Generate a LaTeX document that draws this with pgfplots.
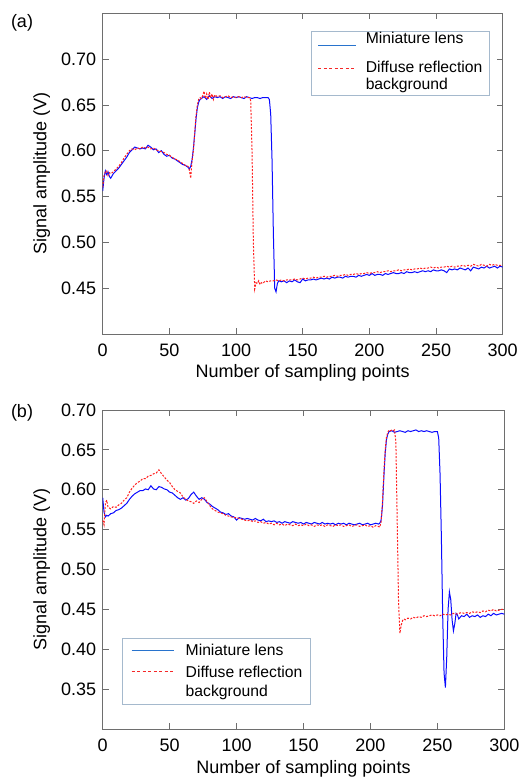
\documentclass[border=0pt]{standalone}
\usepackage{pgfplots}
\pgfplotsset{compat=1.18}
\usepackage{fontspec}
\setmainfont{Liberation Sans}
\definecolor{axgray}{RGB}{110,110,110}
\definecolor{legblue}{RGB}{40,115,205}
\definecolor{legred}{RGB}{245,40,40}
\definecolor{legedge}{RGB}{165,185,205}
\definecolor{lblue}{RGB}{10,10,255}
\definecolor{lred}{RGB}{255,30,30}
\pgfplotsset{
  mystyle/.style={
    scale only axis,
    xmin=0, xmax=300,
    xtick={0,50,...,300},
    tick align=inside,
    major tick length=6pt,
    axis line style={axgray, line width=0.8pt},
    every tick/.style={axgray, line width=0.8pt},
    tick label style={font=\fontsize{18}{21}\selectfont, text=black},
    xticklabel style={yshift=-6.5pt, /pgf/number format/precision=0, /pgf/number format/fixed zerofill=false},
    yticklabel style={xshift=-3pt},
    label style={font=\fontsize{18}{21}\selectfont},
    /pgf/number format/assume math mode=true,
    /pgf/number format/fixed,
    /pgf/number format/fixed zerofill,
    /pgf/number format/precision=2,
    xlabel={Number of sampling points},
    ylabel={Signal amplitude (V)},
    ylabel style={at={(axis description cs:0,0.5)}, anchor=south, yshift=49pt},
    legend style={draw=legedge, line width=0.8pt, font=\fontsize{15.7}{18}\selectfont,
      cells={anchor=west}, nodes={inner sep=0pt, text depth=, font=\fontsize{15.7}{18}\selectfont},
      inner ysep=1pt, row sep=0pt},
  },
  blueline/.style={lblue, line width=1pt},
  redline/.style={lred, line width=1pt, dash pattern=on 2pt off 1.5pt},
}
\begin{document}
\begin{tikzpicture}
\useasboundingbox (0pt,0pt) rectangle (532pt,-778pt);
\node[font=\fontsize{18}{21}\selectfont, anchor=base] at (22pt,-28pt) {(a)};
\node[font=\fontsize{18}{21}\selectfont, anchor=base] at (22pt,-417pt) {(b)};
\begin{axis}[mystyle,
  at={(102.7pt,-13.3pt)}, anchor=north west,
  width=400pt, height=320.7pt,
  ymin=0.40, ymax=0.75,
  ytick={0.45,0.50,0.55,0.60,0.65,0.70},
  xlabel style={at={(axis description cs:0.5,0)}, anchor=north, yshift=-27pt},
  legend style={at={(axis description cs:1,1)}, anchor=north east, xshift=-13.4pt, yshift=-17.7pt,
    inner xsep=6.5pt, /tikz/every odd column/.append style={column sep=9pt}},
  legend image code/.code={\draw[#1] (0pt,0pt) -- (38pt,0pt);},
]
\addplot[blueline, forget plot] table {
0 0.556
1 0.570
2 0.578
3 0.574
4 0.577
5 0.572
6 0.570
8 0.575
10 0.578
12 0.581
14 0.585
16 0.589
18 0.593
20 0.598
22 0.601
24 0.604
26 0.603
28 0.602
30 0.603
32 0.602
34 0.606
36 0.604
38 0.601
40 0.602
42 0.598
44 0.600
46 0.596
48 0.594
50 0.595
52 0.592
54 0.591
56 0.589
58 0.587
60 0.585
62 0.584
64 0.582
65 0.580
66 0.583
67 0.590
68 0.602
69 0.618
70 0.635
71 0.647
72 0.653
73 0.656
74 0.657
76 0.659
78 0.656
80 0.660
82 0.657
84 0.659
86 0.658
88 0.659
90 0.657
92 0.659
94 0.658
96 0.657
98 0.659
100 0.658
102 0.659
104 0.658
106 0.657
108 0.659
110 0.658
112 0.657
114 0.658
116 0.658
118 0.657
120 0.658
122 0.658
124 0.658
125 0.656
126 0.640
127 0.590
128 0.510
129 0.450
130 0.446
131 0.455
132 0.458
134 0.457
136 0.458
138 0.456
140 0.458
142 0.457
144 0.459
146 0.457
148 0.456
150 0.460
152 0.458
154 0.459
156 0.459
158 0.460
160 0.459
162 0.460
164 0.461
166 0.460
168 0.461
170 0.460
172 0.462
174 0.461
176 0.462
178 0.462
180 0.461
182 0.463
184 0.462
186 0.463
188 0.463
190 0.462
192 0.464
194 0.463
196 0.464
198 0.465
200 0.464
202 0.466
204 0.464
206 0.465
208 0.465
210 0.464
212 0.466
214 0.465
216 0.466
218 0.467
220 0.466
222 0.466
224 0.467
226 0.466
228 0.468
230 0.467
232 0.467
234 0.468
236 0.467
238 0.468
240 0.469
242 0.468
244 0.469
246 0.468
248 0.470
250 0.469
252 0.469
254 0.470
256 0.469
258 0.467
260 0.471
262 0.470
264 0.471
266 0.470
268 0.472
270 0.471
272 0.470
274 0.472
276 0.469
278 0.473
280 0.472
282 0.471
284 0.473
286 0.472
288 0.474
290 0.472
292 0.473
294 0.474
296 0.472
298 0.474
300 0.473
};
\addplot[redline, forget plot] table {
0 0.560
1 0.573
2 0.577
3 0.578
4 0.573
5 0.576
6 0.575
8 0.577
10 0.580
12 0.583
14 0.587
16 0.592
18 0.596
20 0.600
22 0.602
24 0.601
26 0.603
28 0.602
30 0.604
32 0.603
34 0.604
36 0.602
38 0.603
40 0.601
42 0.600
44 0.599
46 0.598
48 0.596
50 0.595
52 0.593
54 0.591
56 0.590
58 0.588
60 0.586
62 0.584
64 0.583
65 0.579
66 0.570
67 0.588
68 0.600
69 0.620
70 0.638
71 0.650
72 0.656
73 0.658
74 0.657
75 0.660
76 0.665
77 0.657
78 0.662
79 0.656
80 0.664
81 0.658
82 0.662
83 0.656
84 0.661
86 0.659
88 0.660
90 0.658
92 0.659
94 0.660
96 0.658
98 0.659
100 0.658
102 0.659
104 0.658
106 0.659
108 0.658
110 0.658
111 0.655
112 0.600
113 0.500
114 0.449
115 0.456
116 0.455
117 0.458
118 0.454
119 0.456
120 0.455
122 0.458
124 0.457
126 0.458
128 0.458
130 0.459
132 0.458
134 0.459
136 0.458
138 0.459
140 0.459
142 0.459
144 0.460
146 0.459
148 0.460
150 0.461
152 0.460
154 0.461
156 0.461
158 0.462
160 0.461
162 0.462
164 0.462
166 0.463
168 0.462
170 0.463
172 0.463
174 0.464
176 0.463
178 0.464
180 0.464
182 0.465
184 0.464
186 0.465
188 0.465
190 0.466
192 0.465
194 0.466
196 0.466
198 0.467
200 0.466
202 0.467
204 0.467
206 0.468
208 0.467
210 0.468
212 0.468
214 0.469
216 0.468
218 0.469
220 0.469
222 0.470
224 0.469
226 0.470
228 0.470
230 0.471
232 0.470
234 0.471
236 0.471
238 0.472
240 0.471
242 0.472
244 0.472
246 0.473
248 0.472
250 0.473
252 0.472
254 0.473
256 0.473
258 0.474
260 0.473
262 0.474
264 0.473
266 0.474
268 0.474
270 0.475
272 0.474
274 0.475
276 0.474
278 0.476
280 0.475
282 0.474
284 0.476
286 0.475
288 0.474
290 0.476
292 0.475
294 0.476
296 0.475
298 0.475
300 0.475
};
\addlegendimage{legend image code/.code={\draw[legblue, line width=1pt] (0pt,0pt) -- (38pt,0pt); \path (0pt,-15.3pt);}}
\addlegendentry{Miniature lens\rule[-14.8pt]{0pt}{26.2pt}}
\addlegendimage{legred, line width=1pt, dash pattern=on 3pt off 2.5pt}
\addlegendentry{Diffuse reflection\rule[-3.8pt]{0pt}{15.5pt}}
\addlegendimage{empty legend}
\addlegendentry{background\rule[-4.9pt]{0pt}{17.6pt}}
\end{axis}
\begin{axis}[mystyle,
  at={(102.7pt,-410pt)}, anchor=north west,
  width=401.6pt, height=319pt,
  ymin=0.30, ymax=0.70,
  ytick={0.35,0.40,0.45,0.50,0.55,0.60,0.65,0.70},
  xlabel style={at={(axis description cs:0.5,0)}, anchor=north, yshift=-28pt},
  legend style={at={(axis description cs:0,0)}, anchor=south west, xshift=19.6pt, yshift=24.7pt,
    inner xsep=8.5pt, /tikz/every odd column/.append style={column sep=11.5pt}},
  legend image code/.code={\draw[#1] (0pt,0pt) -- (42pt,0pt);},
]
\addplot[blueline, forget plot] table {
0 0.590
1 0.572
2 0.566
3 0.568
4 0.567
6 0.570
8 0.571
10 0.574
12 0.575
14 0.577
16 0.580
18 0.583
20 0.588
22 0.592
24 0.595
26 0.597
28 0.599
30 0.599
32 0.601
34 0.600
36 0.605
38 0.601
40 0.600
42 0.604
44 0.603
46 0.601
48 0.600
50 0.597
52 0.596
54 0.593
56 0.590
58 0.588
60 0.590
62 0.587
64 0.589
66 0.594
68 0.597
70 0.592
72 0.588
74 0.590
76 0.588
78 0.584
80 0.582
82 0.579
84 0.577
86 0.575
88 0.572
90 0.571
92 0.569
94 0.570
96 0.567
98 0.566
100 0.562
102 0.565
104 0.564
106 0.563
108 0.564
110 0.563
112 0.562
114 0.564
116 0.562
118 0.561
120 0.563
122 0.560
124 0.561
126 0.560
128 0.561
130 0.559
132 0.560
134 0.558
136 0.560
138 0.559
140 0.558
142 0.560
144 0.559
146 0.558
148 0.559
150 0.557
152 0.559
154 0.558
156 0.557
158 0.559
160 0.558
162 0.557
164 0.559
166 0.557
168 0.558
170 0.557
172 0.558
174 0.556
176 0.558
178 0.557
180 0.558
182 0.556
184 0.558
186 0.557
188 0.556
190 0.557
192 0.558
194 0.556
196 0.557
198 0.558
200 0.556
202 0.557
204 0.558
206 0.557
207 0.558
208 0.562
209 0.580
210 0.615
211 0.645
212 0.663
213 0.670
214 0.673
216 0.674
218 0.672
220 0.673
222 0.674
224 0.673
226 0.672
228 0.674
230 0.673
232 0.674
234 0.675
236 0.673
238 0.674
240 0.673
242 0.674
244 0.673
246 0.672
248 0.673
250 0.673
251 0.665
252 0.620
253 0.540
254 0.440
255 0.370
256 0.352
257 0.390
258 0.450
259 0.472
260 0.462
261 0.437
262 0.423
263 0.432
264 0.445
265 0.443
266 0.438
268 0.442
270 0.441
272 0.444
274 0.440
276 0.442
278 0.441
280 0.443
282 0.440
284 0.442
286 0.441
288 0.444
290 0.442
292 0.445
294 0.443
296 0.444
298 0.445
300 0.444
};
\addplot[redline, forget plot] table {
0 0.562
1 0.556
2 0.583
3 0.587
4 0.578
6 0.576
8 0.579
10 0.578
12 0.581
14 0.583
16 0.587
18 0.590
20 0.597
22 0.602
24 0.606
26 0.609
28 0.611
30 0.614
32 0.614
34 0.617
36 0.618
38 0.620
40 0.621
42 0.625
44 0.620
46 0.616
48 0.612
50 0.609
52 0.604
54 0.600
56 0.598
58 0.596
60 0.591
62 0.588
64 0.586
66 0.585
68 0.583
70 0.586
72 0.584
74 0.588
76 0.590
78 0.585
80 0.580
82 0.576
84 0.574
86 0.572
88 0.571
90 0.570
92 0.568
94 0.567
96 0.566
98 0.565
100 0.565
102 0.564
104 0.563
106 0.562
108 0.561
110 0.562
112 0.560
114 0.561
116 0.559
118 0.560
120 0.558
122 0.559
124 0.557
126 0.558
128 0.556
130 0.558
132 0.556
134 0.557
136 0.555
138 0.557
140 0.556
142 0.555
144 0.557
146 0.555
148 0.556
150 0.555
152 0.557
154 0.555
156 0.556
158 0.554
160 0.556
162 0.555
164 0.556
166 0.554
168 0.556
170 0.555
172 0.554
174 0.556
176 0.555
178 0.556
180 0.554
182 0.555
184 0.556
186 0.554
188 0.555
190 0.556
192 0.554
194 0.555
196 0.556
198 0.554
200 0.555
202 0.553
204 0.555
206 0.554
207 0.553
208 0.560
209 0.585
210 0.620
211 0.650
212 0.666
213 0.672
214 0.675
215 0.674
216 0.675
217 0.674
218 0.675
219 0.660
220 0.560
221 0.460
222 0.420
223 0.430
224 0.436
225 0.438
226 0.437
228 0.439
230 0.438
232 0.440
234 0.439
236 0.441
238 0.440
240 0.442
242 0.441
244 0.442
246 0.443
248 0.442
250 0.443
252 0.442
254 0.444
256 0.443
258 0.444
260 0.443
262 0.445
264 0.444
266 0.445
268 0.446
270 0.445
272 0.446
274 0.445
276 0.447
278 0.446
280 0.447
282 0.446
284 0.448
286 0.447
288 0.449
290 0.448
292 0.450
294 0.448
296 0.449
298 0.450
300 0.450
};
\addlegendimage{legend image code/.code={\draw[legblue, line width=1pt] (0pt,0pt) -- (42pt,0pt); \path (0pt,-1.4pt);}}
\addlegendentry{Miniature lens\rule[-6.35pt]{0pt}{22.75pt}}
\addlegendimage{legred, line width=1pt, dash pattern=on 3pt off 2.5pt}
\addlegendentry{Diffuse reflection\rule[-3.95pt]{0pt}{19.3pt}\hspace{7pt}}
\addlegendimage{empty legend}
\addlegendentry{background\rule[-6.6pt]{0pt}{21.95pt}}
\end{axis}
\end{tikzpicture}
\end{document}
